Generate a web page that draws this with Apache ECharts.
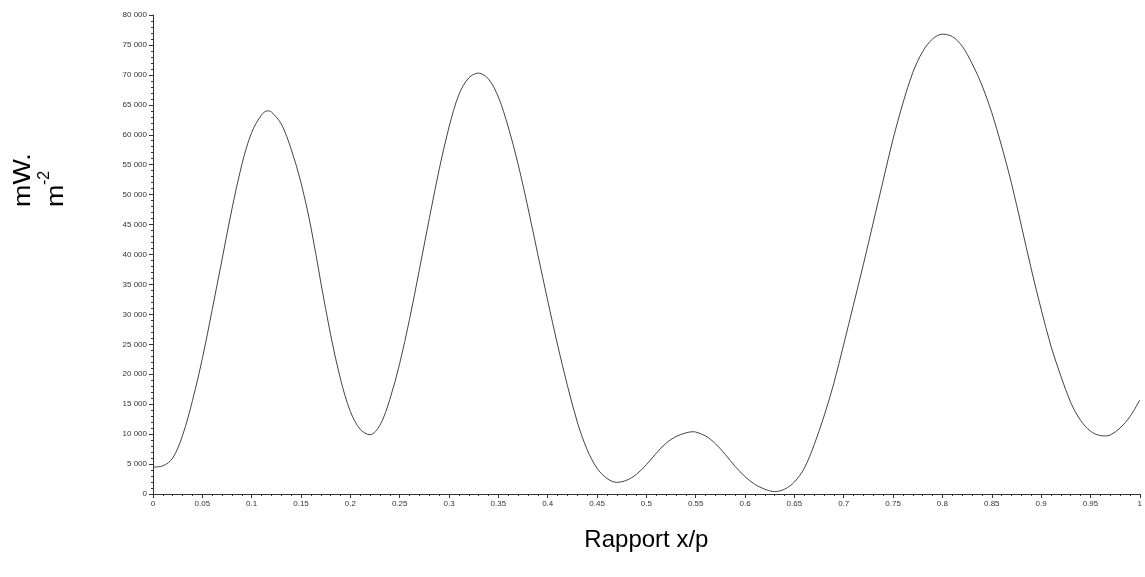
<!DOCTYPE html>
<html>
<head>
<meta charset="utf-8">
<script src="https://cdn.jsdelivr.net/npm/echarts@6/dist/echarts.min.js"></script>
<style>
html,body{margin:0;padding:0;background:#fff;}
#c{width:1145px;height:577px;}
</style>
</head>
<body>
<div id="c"></div>
<script>
// Ratio x/p
const xs = [0,0.01,0.02,0.03,0.04,0.05,0.06,0.07,0.08,0.09,0.10,0.11,0.116,0.12,0.13,0.14,0.15,0.16,0.17,0.18,0.19,0.20,0.21,0.22,0.23,0.24,0.25,0.26,0.27,0.28,0.29,0.30,0.31,0.32,0.33,0.34,0.35,0.36,0.37,0.38,0.39,0.40,0.41,0.42,0.43,0.44,0.45,0.46,0.47,0.48,0.49,0.50,0.51,0.52,0.53,0.54,0.547,0.55,0.56,0.57,0.58,0.59,0.60,0.61,0.62,0.63,0.64,0.65,0.66,0.67,0.68,0.69,0.70,0.71,0.72,0.73,0.74,0.75,0.76,0.77,0.78,0.79,0.80,0.81,0.82,0.83,0.84,0.85,0.86,0.87,0.88,0.89,0.90,0.91,0.92,0.93,0.94,0.95,0.96,0.965,0.97,0.98,0.99,1.00];
// mW.m-2
const ys = [4500,4700,6000,9800,15600,22600,30800,39200,47600,55000,60400,63300,64000,63800,61800,57600,52000,44600,35400,26600,19200,13800,10800,9900,11500,15800,21800,29200,37500,46000,54200,61300,66700,69500,70300,69300,66300,61300,55100,47800,40000,32300,24900,18100,12000,7400,4300,2600,1950,2300,3300,4900,6800,8500,9600,10200,10400,10350,9700,8400,6600,4600,2900,1600,800,400,800,2000,4300,8200,13000,18500,25000,31700,38400,45400,52400,59300,65300,70400,73900,76000,76800,76400,74800,71900,68300,63700,58100,51900,44800,37600,30900,24700,19700,15300,12300,10500,9750,9700,9850,11000,12900,15700];
const xTitle = 'Rapport x/p';
const yTitleLine1 = 'mW.';
const yTitleLine2 = 'm';
const yTitleSup = '-2';

const chart = echarts.init(document.getElementById('c'));
const fmtY = v => v === 0 ? '0' : String(v).replace(/\B(?=(\d{3})+(?!\d))/g, ' ');
const fmtX = v => String(+v.toFixed(2));
const axisColor = '#333';
chart.setOption({
  animation: false,
  backgroundColor: '#fff',
  textStyle: {fontFamily: 'Liberation Sans, Arial, sans-serif'},
  grid: {left: 153, right: 2, top: 15, bottom: 83},
  xAxis: {
    type: 'value', min: 0, max: 1, interval: 0.05,
    name: xTitle, nameLocation: 'middle', nameGap: 34,
    nameTextStyle: {fontSize: 24, color: '#000', fontFamily: 'Liberation Sans'},
    axisLine: {lineStyle: {color: axisColor, width: 1}},
    axisTick: {show: true, length: 4, lineStyle: {color: axisColor}},
    minorTick: {show: true, splitNumber: 5, length: 2, lineStyle: {color: axisColor}},
    axisLabel: {fontSize: 8, color: '#333', margin: 6, formatter: fmtX, showMaxLabel: true, showMinLabel: true},
    splitLine: {show: false}
  },
  yAxis: {
    type: 'value', min: 0, max: 80000, interval: 5000,
    axisLine: {show: true, lineStyle: {color: axisColor, width: 1}},
    axisTick: {show: true, length: 4, lineStyle: {color: axisColor}},
    minorTick: {show: true, splitNumber: 5, length: 2, lineStyle: {color: axisColor}},
    axisLabel: {fontSize: 8, color: '#333', margin: 6, formatter: fmtY},
    splitLine: {show: false}
  },
  graphic: [
    {type: 'text', x: 35, y: 207, rotation: Math.PI / 2, scaleX: 1.12,
     style: {text: yTitleLine1, fontSize: 24, fill: '#000', fontFamily: 'Liberation Sans', textAlign: 'left', textVerticalAlign: 'bottom'}},
    {type: 'text', x: 68, y: 207, rotation: Math.PI / 2, scaleX: 1.12,
     style: {text: yTitleLine2, fontSize: 24, fill: '#000', fontFamily: 'Liberation Sans', textAlign: 'left', textVerticalAlign: 'bottom'}},
    {type: 'text', x: 53, y: 185, rotation: Math.PI / 2,
     style: {text: yTitleSup, fontSize: 16, fill: '#000', fontFamily: 'Liberation Sans', textAlign: 'left', textVerticalAlign: 'bottom'}}
  ],
  series: [{
    type: 'line',
    data: xs.map((x, i) => [x, ys[i]]),
    smooth: 0.33,
    showSymbol: false,
    lineStyle: {color: '#444', width: 1}
  }]
});
</script>
</body>
</html>
